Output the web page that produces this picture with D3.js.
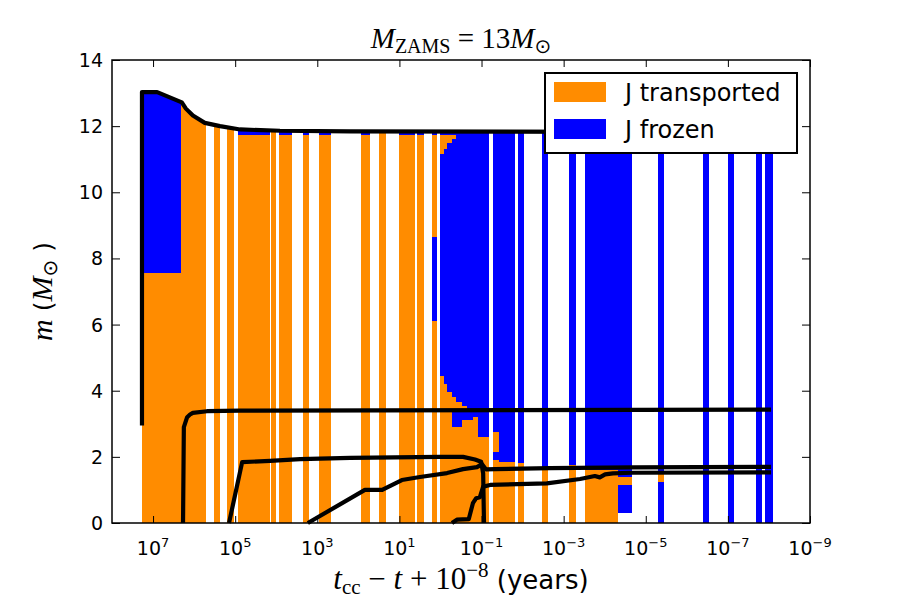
<!DOCTYPE html>
<html>
<head>
<meta charset="utf-8">
<script src="https://cdn.jsdelivr.net/npm/d3@7"></script>
<style>
  body { margin: 0; background: #fff; }
</style>
</head>
<body>
<svg id="chart" width="900" height="600"></svg>
<script>
// axis ticks
var tickExp = [7, 5, 3, 1, -1, -3, -5, -7, -9];
var massTicks = [0, 2, 4, 6, 8, 10, 12, 14];

// time bins, log10(t_cc - t + 1e-8) in years: left and right edge
var binFrom = [7.29, 6.32, 5.52, 5.20, 4.93, 4.13, 3.93, 3.35, 2.96, 1.94, 1.50, 1.01, 0.57, 0.21,
  0.01, -0.09, -0.16, -0.28, -0.38, -0.52, -0.65, -0.79, -0.91,
  -1.28, -1.43, -1.89, -2.47, -3.13, -3.52, -4.32, -5.30, -6.39, -7.00, -7.68, -7.90];
var binTo = [6.32, 5.71, 5.37, 5.03, 4.15, 4.01, 3.62, 3.20, 2.67, 1.72, 1.33, 0.62, 0.40, 0.08,
  -0.09, -0.16, -0.28, -0.38, -0.52, -0.65, -0.79, -0.91, -1.18,
  -1.43, -1.81, -2.03, -2.62, -3.30, -4.32, -4.66, -5.44, -6.54, -7.15, -7.83, -8.10];

// mass layers of each bin, bottom to top: [state, m from, m to], null = up to the surface
// T = J transported, F = J frozen
var binLayers = [
  [["T", 0, 7.55], ["F", 7.55, null]],
  [["T", 0, null]],
  [["T", 0, null]],
  [["T", 0, null]],
  [["T", 0, 11.72], ["F", 11.72, null]],
  [["T", 0, null]],
  [["T", 0, 11.72], ["F", 11.72, null]],
  [["T", 0, 11.72], ["F", 11.72, null]],
  [["T", 0, 11.72], ["F", 11.72, null]],
  [["T", 0, 11.72], ["F", 11.72, null]],
  [["T", 0, null]],
  [["T", 0, 11.72], ["F", 11.72, null]],
  [["T", 0, 11.72], ["F", 11.72, null]],
  [["T", 0, 6.1], ["F", 6.1, 8.65], ["T", 8.65, 11.72], ["F", 11.72, null]],
  [["T", 0, 4.45], ["F", 4.45, 11.15], ["T", 11.15, 11.72], ["F", 11.72, null]],
  [["T", 0, 4.2], ["F", 4.2, 11.3], ["T", 11.3, 11.72], ["F", 11.72, null]],
  [["T", 0, 3.95], ["F", 3.95, 11.5], ["T", 11.5, 11.72], ["F", 11.72, null]],
  [["T", 0, 2.9], ["F", 2.9, 3.45], ["T", 3.45, 3.8], ["F", 3.8, 11.62], ["T", 11.62, 11.72], ["F", 11.72, null]],
  [["T", 0, 2.9], ["F", 2.9, 3.45], ["T", 3.45, 3.65], ["F", 3.65, null]],
  [["T", 0, 3.1], ["F", 3.1, 3.45], ["T", 3.45, 3.55], ["F", 3.55, null]],
  [["T", 0, 3.1], ["F", 3.1, null]],
  [["T", 0, 3.2], ["F", 3.2, null]],
  [["T", 0, 2.6], ["F", 2.6, null]],
  [["T", 0, 1.9], ["F", 1.9, 2.15], ["T", 2.15, 2.75], ["F", 2.75, null]],
  [["T", 0, 1.85], ["F", 1.85, null]],
  [["T", 0, 1.8], ["F", 1.8, null]],
  [["T", 0, 1.66], ["F", 1.66, null]],
  [["T", 0, 1.75], ["F", 1.75, null]],
  [["T", 0, 1.6], ["F", 1.6, null]],
  [["F", 0.3, 1.15], ["T", 1.15, 1.4], ["F", 1.4, null]],
  [["F", 0, 1.25], ["T", 1.25, 1.5], ["F", 1.5, null]],
  [["F", 0, null]],
  [["F", 0, null]],
  [["F", 0, null]],
  [["F", 0, null]]
];

// black lines: total mass and inner boundaries (log10 time, mass)
var totalT = [7.27, 7.27, 6.90, 6.30, 6.20, 6.03, 5.74, 5.37, 4.88, 3.91, 2.20, -8.05];
var totalM = [2.95, 13.03, 13.03, 12.72, 12.53, 12.32, 12.10, 12.00, 11.90, 11.86, 11.84, 11.82];
var heT = [6.27, 6.25, 6.17, 6.10, 6.03, 5.69, 4.88, -8.05];
var heM = [0, 2.9, 3.2, 3.28, 3.33, 3.38, 3.40, 3.43];
var coT = [5.15, 4.83, 4.15, 3.42, 2.20, 0.01, -0.55, -0.84, -0.99, -1.04, -1.06];
var coM = [0, 1.84, 1.88, 1.93, 1.97, 2.00, 2.00, 1.92, 1.85, 1.5, 0];
var neT = [3.23, 1.84, 1.42, 0.94, 0.50, -0.16, -0.55, -0.89, -1.01, -1.11, -1.33, -2.67, -4.66, -8.05];
var neM = [0, 1.0, 1.0, 1.3, 1.39, 1.51, 1.63, 1.69, 1.78, 1.62, 1.63, 1.66, 1.68, 1.70];
var siT = [-0.28, -0.40, -0.69, -0.79, -0.87, -0.96, -1.04, -1.21, -2.59, -3.40, -3.76, -3.88, -4.01, -4.20, -4.66, -8.05];
var siM = [0, 0.1, 0.12, 0.6, 0.75, 0.78, 1.1, 1.15, 1.2, 1.33, 1.42, 1.38, 1.47, 1.5, 1.52, 1.53];

var legendNames = ["J transported", "J frozen"];

var colors = { T: "#ff8c00", F: "#0000ff" };
var margin = { left: 112, right: 90, top: 60, bottom: 77 };
var width = 900 - margin.left - margin.right,
    height = 600 - margin.top - margin.bottom;

var svg = d3.select("#chart");
var g = svg.append("g").attr("transform", "translate(" + margin.left + "," + margin.top + ")");

var x = d3.scaleLog().domain([1e8, 1e-9]).range([0, width]);
var y = d3.scaleLinear().domain([0, 14]).range([height, 0]);
var xt = function (e) { return x(Math.pow(10, e)); };

// clip bars to the surface (total mass line)
var surf = totalT.slice(1).map(function (t, i) { return [t, totalM[i + 1]]; });
surf.push([-9, totalM[totalM.length - 1]]);
var area = d3.area().x(function (d) { return xt(d[0]); }).y0(y(0)).y1(function (d) { return y(d[1]); });
svg.append("defs").append("clipPath").attr("id", "surface")
  .append("path").attr("d", area(surf));

// bars
var rects = [];
binLayers.forEach(function (layers, i) {
  layers.forEach(function (l) {
    rects.push({ t0: binFrom[i], t1: binTo[i], s: l[0], m0: l[1], m1: l[2] === null ? 14 : l[2] });
  });
});
g.append("g").attr("clip-path", "url(#surface)")
  .selectAll("rect").data(rects).enter().append("rect")
  .attr("x", function (d) { return xt(d.t0); })
  .attr("width", function (d) { return xt(d.t1) - xt(d.t0); })
  .attr("y", function (d) { return y(d.m1); })
  .attr("height", function (d) { return y(d.m0) - y(d.m1); })
  .attr("fill", function (d) { return colors[d.s]; })
  .attr("shape-rendering", "crispEdges");

// lines
var line = d3.line().x(function (d) { return xt(d[0]); }).y(function (d) { return y(d[1]); });
[[totalT, totalM], [heT, heM], [coT, coM], [neT, neM], [siT, siM]].forEach(function (p) {
  g.append("path")
    .attr("d", line(p[0].map(function (t, i) { return [t, p[1][i]]; })))
    .attr("fill", "none")
    .attr("stroke", "black")
    .attr("stroke-width", 4.2)
    .attr("stroke-linejoin", "round");
});

// axes, ticks inward on all four sides
var xVals = tickExp.map(function (e) { return Math.pow(10, e); });
g.append("g").attr("transform", "translate(0," + height + ")")
  .call(d3.axisBottom(x).tickValues(xVals).tickSizeInner(-7).tickSizeOuter(0).tickFormat(""));
g.append("g")
  .call(d3.axisTop(x).tickValues(xVals).tickSizeInner(-7).tickSizeOuter(0).tickFormat(""));
g.append("g")
  .call(d3.axisLeft(y).tickValues(massTicks).tickSizeInner(-8).tickSizeOuter(0).tickFormat(""));
g.append("g").attr("transform", "translate(" + width + ",0)")
  .call(d3.axisRight(y).tickValues(massTicks).tickSizeInner(-8).tickSizeOuter(0).tickFormat(""));
g.selectAll(".domain").remove();
g.selectAll(".tick line").attr("stroke", "black").attr("stroke-width", 1);

g.append("rect").attr("width", width).attr("height", height)
  .attr("fill", "none").attr("stroke", "black").attr("stroke-width", 1.5);

// tick labels
g.selectAll(".ylab").data(massTicks).enter().append("text")
  .attr("x", -9).attr("y", function (d) { return y(d) + 7; })
  .attr("text-anchor", "end")
  .style("font-family", "DejaVu Sans").style("font-size", "19px")
  .text(function (d) { return d; });

var xl = g.selectAll(".xlab").data(tickExp).enter().append("text")
  .attr("x", function (d) { return xt(d); }).attr("y", height + 32)
  .attr("text-anchor", "middle")
  .style("font-family", "DejaVu Sans").style("font-size", "19px");
xl.append("tspan").text("10");
xl.append("tspan").attr("dy", -8).style("font-size", "13px")
  .text(function (d) { return d < 0 ? "\u2212" + (-d) : d; });

// title
var title = svg.append("text").attr("x", margin.left + width / 2).attr("y", 48)
  .attr("text-anchor", "middle")
  .style("font-family", "Liberation Serif").style("font-size", "29px");
title.append("tspan").style("font-style", "italic").text("M");
title.append("tspan").attr("dy", 5).style("font-size", "20px").text("ZAMS");
title.append("tspan").attr("dy", -5).text(" = 13");
title.append("tspan").style("font-style", "italic").text("M");
title.append("tspan").attr("dy", 5).style("font-size", "20px").style("font-family", "DejaVu Sans").text("\u2299");

// x label
var xlab = svg.append("text").attr("x", margin.left + width / 2).attr("y", 589)
  .attr("text-anchor", "middle")
  .style("font-family", "Liberation Serif").style("font-size", "31px");
xlab.append("tspan").style("font-style", "italic").text("t");
xlab.append("tspan").attr("dy", 5).style("font-size", "21px").text("cc");
xlab.append("tspan").attr("dy", -5).text(" \u2212 ");
xlab.append("tspan").style("font-style", "italic").text("t");
xlab.append("tspan").text(" + 10");
xlab.append("tspan").attr("dy", -12).style("font-size", "21px").text("\u22128");
xlab.append("tspan").attr("dy", 12).style("font-family", "DejaVu Sans").style("font-size", "26px").text(" (years)");

// y label
var ylab = svg.append("text")
  .attr("transform", "translate(52," + (margin.top + height / 2) + ") rotate(-90)")
  .attr("text-anchor", "middle")
  .style("font-family", "Liberation Serif").style("font-size", "30px");
ylab.append("tspan").style("font-style", "italic").text("m");
ylab.append("tspan").style("font-family", "DejaVu Sans").style("font-size", "25px").text(" (");
ylab.append("tspan").style("font-style", "italic").text("M");
ylab.append("tspan").attr("dy", 5).style("font-size", "20px").style("font-family", "DejaVu Sans").text("\u2299");
ylab.append("tspan").attr("dy", -5).style("font-family", "DejaVu Sans").style("font-size", "25px").text(" )");

// legend
var leg = svg.append("g").attr("transform", "translate(545,73)");
leg.append("rect").attr("width", 252).attr("height", 80)
  .attr("fill", "white").attr("stroke", "black").attr("stroke-width", 2);
leg.selectAll(".sw").data(legendNames).enter().append("rect")
  .attr("x", 9).attr("y", function (d, i) { return 9 + i * 37; })
  .attr("width", 52).attr("height", 20)
  .attr("fill", function (d, i) { return i === 0 ? colors.T : colors.F; });
leg.selectAll(".lt").data(legendNames).enter().append("text")
  .attr("x", 80).attr("y", function (d, i) { return 28 + i * 37; })
  .style("font-family", "DejaVu Sans").style("font-size", "24px")
  .text(function (d) { return d; });
</script>
</body>
</html>
